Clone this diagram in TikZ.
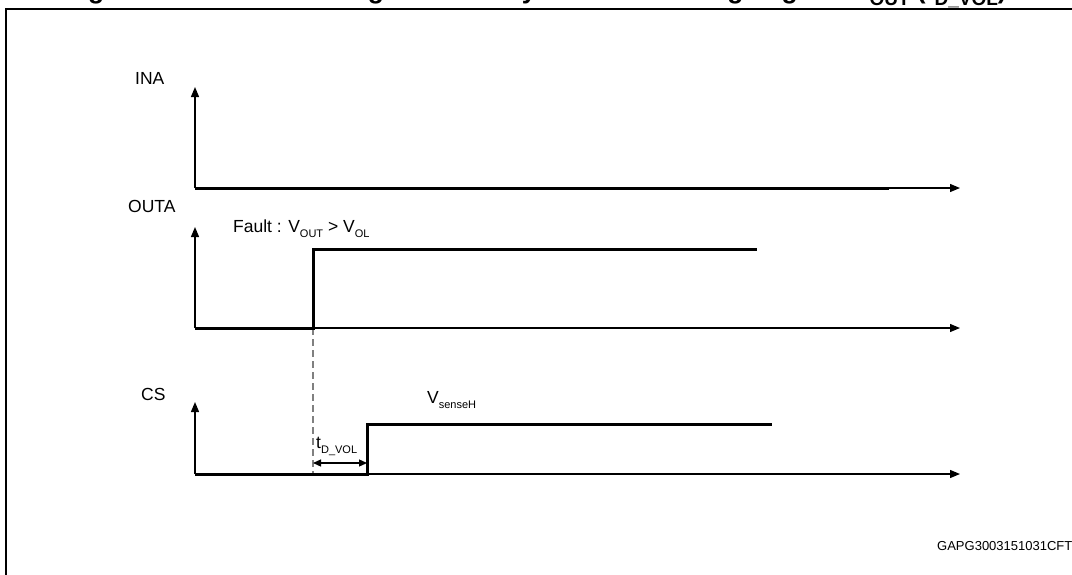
\documentclass[tikz,border=0pt]{standalone}
\usepackage{fontspec}
\setmainfont{Liberation Sans}
\usetikzlibrary{arrows.meta}
\newcommand{\lsub}[1]{\raisebox{-5pt}{\fontsize{11}{11}\selectfont #1}}
\newcommand{\tsub}[1]{\raisebox{-6.5pt}{\fontsize{19}{19}\selectfont\bfseries #1}}

\begin{document}
\begin{tikzpicture}[x=1pt,y=-1pt,
  axis/.style={line width=1.3pt,-{Triangle[length=10pt,width=8pt]}},
  signal/.style={line width=3pt,line join=miter},
  label/.style={anchor=base west,inner sep=0pt,font=\fontsize{17.5}{20}\selectfont},
  marker/.style={gray,line width=1.3pt,dash pattern=on 7pt off 4pt},
  span/.style={line width=1.3pt,{Triangle[length=8pt,width=7pt]}-{Triangle[length=8pt,width=7pt]}},
  frame/.style={line width=2.5pt}]
\useasboundingbox (0,0) rectangle (1072,574);
\draw[frame] (6,620) -- (6,9) -- (1120,9);
\node[anchor=base west,inner sep=0pt,font=\bfseries\fontsize{26.4}{30}\selectfont]
	(title)	at (64.5,-1.5)	{Figure 17. OFF-state diagnostic delay time from rising edge of V\tsub{OUT} (t\tsub{D\_VOL})};

\coordinate	(ina0)	at (195,188);
\coordinate	(inaY)	at (195,87);
\coordinate	(inaX)	at (960,188);
\coordinate	(outa0)	at (195,328);
\coordinate	(outaY)	at (195,227);
\coordinate	(outaX)	at (960,328);
\coordinate	(cs0)	at (195,474);
\coordinate	(csY)	at (195,402);
\coordinate	(csX)	at (960,474);
\coordinate	(fault)	at (313,328);
\coordinate	(sense)	at (367,474);

\node[label]	(ina)	at (135,84)	{INA};
\node[label]	(outa)	at (128,212)	{OUTA};
\node[label]	(cs)	at (141,400)	{CS};
\node[label]	(faultlbl)	at (233,232)	{Fault : V\lsub{OUT} > V\lsub{OL}};
\node[label]	(vsense)	at (427,403)	{V\lsub{senseH}};
\node[label]	(tdvol)	at (316,448)	{t\lsub{D\_VOL}};

\draw[axis]	(ina0) -- (inaY);
\draw[axis]	(ina0) -- (inaX);
\draw[axis]	(outa0) -- (outaY);
\draw[axis]	(outa0) -- (outaX);
\draw[axis]	(cs0) -- (csY);
\draw[axis]	(cs0) -- (csX);

\draw[marker]	(fault) -- (fault |- cs0);
\draw[span]	(fault |- 0,463) -- (sense |- 0,463);

\draw[signal]	(ina0) -- (889,188);
\draw[signal]	(outa0) -- (fault) -- (fault |- 0,249) -- (757,249);
\draw[signal]	(cs0) -- (sense) -- (sense |- 0,424) -- (772,424);

\node[anchor=base west,inner sep=0pt,font=\fontsize{13}{15}\selectfont]
	(code)	at (937,550)	{GAPG3003151031CFT};
\end{tikzpicture}
\end{document}
